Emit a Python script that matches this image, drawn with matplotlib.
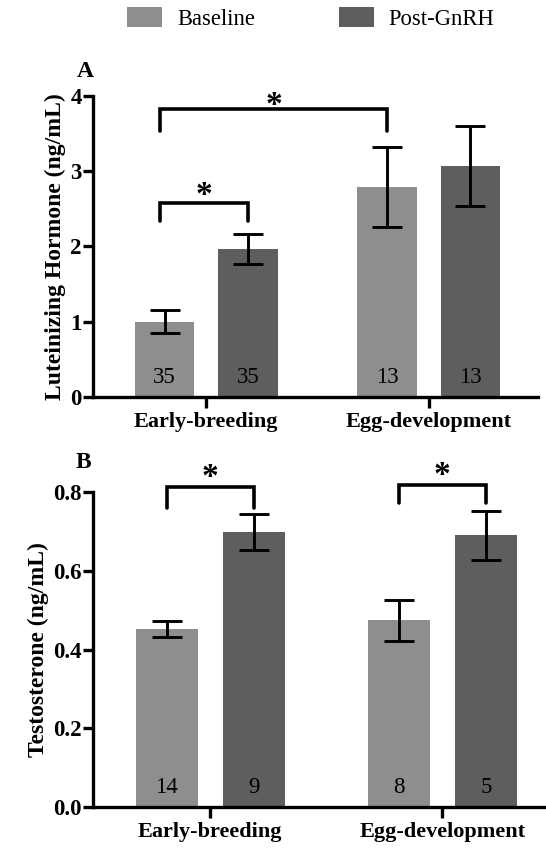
import matplotlib
matplotlib.use("Agg")
import matplotlib.pyplot as plt
from matplotlib.patches import Patch

# ---- data ----
groups = ["Early-breeding", "Egg-development"]
series = ["Baseline", "Post-GnRH"]

lh_baseline = [1.00, 2.79]
lh_baseline_err = [0.15, 0.53]
lh_post = [1.96, 3.07]
lh_post_err = [0.20, 0.53]
lh_n_baseline = [35, 13]
lh_n_post = [35, 13]

t_baseline = [0.453, 0.474]
t_baseline_err = [0.020, 0.053]
t_post = [0.698, 0.690]
t_post_err = [0.045, 0.063]
t_n_baseline = [14, 8]
t_n_post = [9, 5]

lh_yticks = [0, 1, 2, 3, 4]
t_yticks = [0.0, 0.2, 0.4, 0.6, 0.8]

# ---- style ----
C_BASE = "#8e8e8e"
C_POST = "#5e5e5e"
SERIF = ["Liberation Serif", "DejaVu Serif"]
plt.rcParams["font.family"] = SERIF

OFF = 0.187
W = 0.267
SPINE_LW = 2.4


def panel(ax, base, base_err, post, post_err, n_base, n_post, ylim, yticks,
          ylabel, xlim, yfmt):
    xs = list(range(len(groups)))
    xb = [x - OFF for x in xs]
    xp = [x + OFF for x in xs]
    ax.bar(xb, base, W, color=C_BASE, zorder=2)
    ax.bar(xp, post, W, color=C_POST, zorder=2)
    ekw = dict(fmt="none", ecolor="black", elinewidth=2.1, capsize=11,
               capthick=2.1, zorder=3)
    ax.errorbar(xb, base, yerr=base_err, **ekw)
    ax.errorbar(xp, post, yerr=post_err, **ekw)
    for x, n in zip(xb, n_base):
        ax.annotate(str(n), (x, 0), xytext=(0, 14), textcoords="offset points",
                    ha="center", va="center", fontsize=16.5, zorder=4)
    for x, n in zip(xp, n_post):
        ax.annotate(str(n), (x, 0), xytext=(0, 14), textcoords="offset points",
                    ha="center", va="center", fontsize=16.5, zorder=4)
    ax.set_xlim(*xlim)
    ax.set_ylim(*ylim)
    ax.set_yticks(yticks)
    ax.set_yticklabels([yfmt.format(v) for v in yticks])
    ax.set_xticks(xs)
    ax.set_xticklabels(groups)
    for lab in ax.get_xticklabels() + ax.get_yticklabels():
        lab.set_fontweight("bold")
    ax.tick_params(axis="y", length=7, width=SPINE_LW, labelsize=16.5, pad=1)
    ax.tick_params(axis="x", length=8, width=SPINE_LW, labelsize=16, pad=3)
    for s in ("top", "right"):
        ax.spines[s].set_visible(False)
    for s in ("left", "bottom"):
        ax.spines[s].set_linewidth(SPINE_LW)
    ax.set_ylabel(ylabel, fontsize=17, fontweight="bold", labelpad=3)
    return xb, xp


def bracket(ax, x0, x1, y_top, y_leg, star_y):
    ax.plot([x0, x0, x1, x1], [y_leg, y_top, y_top, y_leg], color="black",
            lw=2.6, solid_capstyle="round", solid_joinstyle="miter",
            clip_on=False, zorder=5)
    ax.text((x0 + x1) / 2, star_y, "*", ha="center", va="center",
            fontsize=24, fontweight="bold", clip_on=False)


fig = plt.figure(figsize=(5.46, 8.48), dpi=100)

axA = fig.add_axes([0.170, 0.532, 0.815, 0.355])
xb, xp = panel(axA, lh_baseline, lh_baseline_err, lh_post, lh_post_err,
               lh_n_baseline, lh_n_post, (0, 4), lh_yticks,
               "Luteinizing Hormone (ng/mL)", (-0.51, 1.49), "{:d}")
bracket(axA, xb[0] - 0.02, xp[0], 2.58, 2.34, 2.68)
bracket(axA, xb[0] - 0.02, xb[1], 3.83, 3.53, 3.87)
axA.text(-0.545, 4.32, "A", ha="center", va="center", fontsize=17,
         fontweight="bold", clip_on=False)

axB = fig.add_axes([0.170, 0.0483, 0.830, 0.3715])
xb, xp = panel(axB, t_baseline, t_baseline_err, t_post, t_post_err,
               t_n_baseline, t_n_post, (0, 0.8), t_yticks,
               "Testosterone (ng/mL)", (-0.506, 1.446), "{:.1f}")
bracket(axB, xb[0] + 0.0, xp[0], 0.813, 0.760, 0.838)
bracket(axB, xb[1] + 0.0, xp[1], 0.817, 0.771, 0.841)
axB.text(-0.545, 0.876, "B", ha="center", va="center", fontsize=17,
         fontweight="bold", clip_on=False)

handles = [Patch(facecolor=C_BASE, label=series[0]),
           Patch(facecolor=C_POST, label=series[1])]
fig.legend(handles=handles, loc="upper left",
           bbox_to_anchor=(127 / 546, 1 - 7 / 848),
           ncol=2, frameon=False, fontsize=16.3, borderpad=0,
           borderaxespad=0, handlelength=1.55, handleheight=0.95,
           handletextpad=0.66, columnspacing=3.7)

fig.savefig("out.png", dpi=100)
